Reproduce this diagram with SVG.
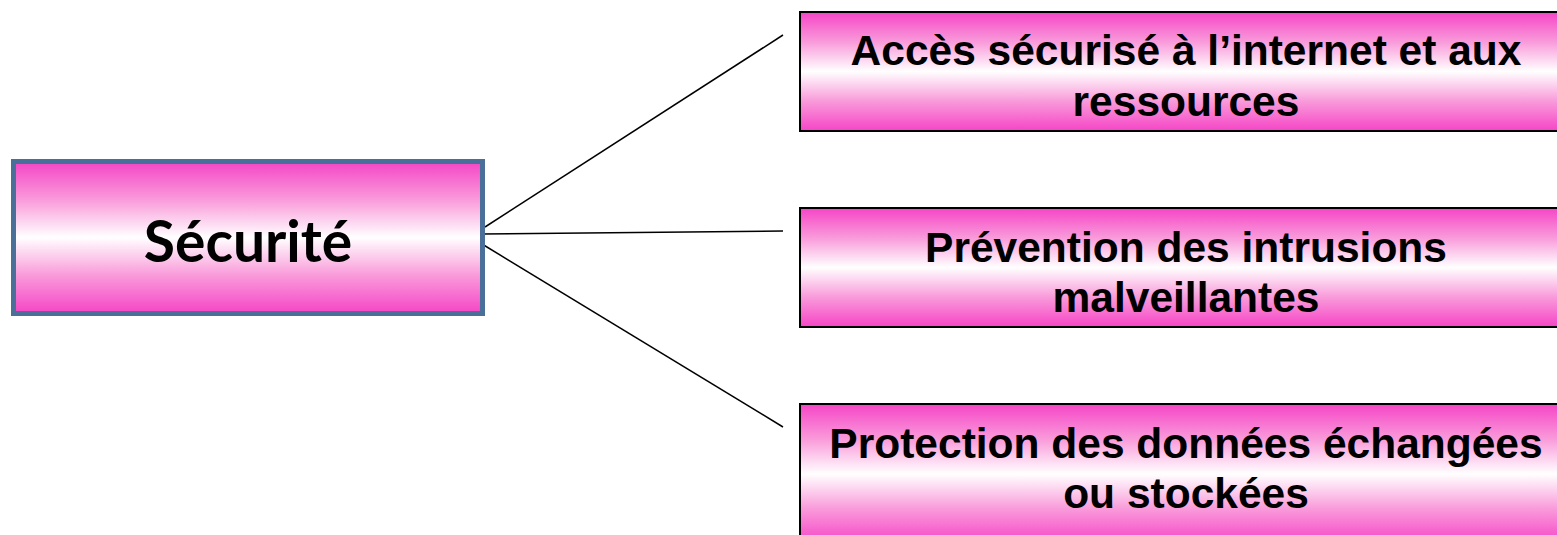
<svg xmlns="http://www.w3.org/2000/svg" width="1557" height="535" viewBox="0 0 1557 535">
<defs>
<linearGradient id="pink" x1="0" y1="0" x2="0" y2="1">
<stop offset="0" stop-color="#f545c6"/>
<stop offset="0.25" stop-color="#f99ada"/>
<stop offset="0.5" stop-color="#ffffff"/>
<stop offset="0.75" stop-color="#f99ada"/>
<stop offset="1" stop-color="#f545c6"/>
</linearGradient>
</defs>
<style>
.box{fill:url(#pink);stroke:#000;stroke-width:2}
.main{fill:url(#pink);stroke:#4a6f98;stroke-width:5}
.t{font-family:"Liberation Sans",Arial,sans-serif;font-weight:bold;font-size:42.5px;text-anchor:middle;fill:#000}
.big{font-family:Lato,"Open Sans",sans-serif;font-weight:bold;font-size:57px;text-anchor:middle;fill:#000}
.c{stroke:#000;stroke-width:1.5;fill:none}
</style>
<rect width="1557" height="535" fill="#fff"/>
<g id="connectors">
<line class="c" x1="485" y1="227" x2="783" y2="35"/>
<line class="c" x1="482" y1="234" x2="783" y2="231"/>
<line class="c" x1="482" y1="244" x2="783" y2="427"/>
</g>
<g id="node-securite">
<rect class="main" x="13.5" y="161.5" width="469" height="152"/>
<text class="big" x="248" y="262">Sécurité</text>
</g>
<g id="node-acces">
<rect class="box" x="800" y="12" width="770" height="119"/>
<text class="t" x="1186" y="65">Accès sécurisé à l’internet et aux</text>
<text class="t" x="1186" y="116">ressources</text>
</g>
<g id="node-prevention">
<rect class="box" x="800" y="208" width="770" height="119"/>
<text class="t" x="1186" y="262">Prévention des intrusions</text>
<text class="t" x="1186" y="312">malveillantes</text>
</g>
<g id="node-protection">
<rect class="box" x="800" y="404" width="770" height="140"/>
<text class="t" x="1186" y="458">Protection des données échangées</text>
<text class="t" x="1186" y="508">ou stockées</text>
</g>
</svg>
